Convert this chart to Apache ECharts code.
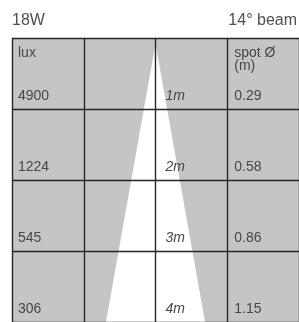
<!DOCTYPE html>
<html>
<head>
<meta charset="utf-8">
<script src="https://cdn.jsdelivr.net/npm/echarts@6/dist/echarts.min.js"></script>
<style>
  html, body { margin: 0; padding: 0; background: #fff; }
  #chart { width: 299px; height: 322px; }
</style>
</head>
<body>
<div id="chart"></div>
<script>
// rows of the table (distance from the lamp)
const distances = [1, 2, 3, 4];
const distanceLabels = ['1m', '2m', '3m', '4m'];
const luxValues = [4900, 1224, 545, 306];
const spotDiameters = ['0.29', '0.58', '0.86', '1.15'];

// beam outline, in column / metre units
const beamX = [2, 1.31, 2.69];
const beamY = [0.08, 4, 4];

const chart = echarts.init(document.getElementById('chart'));
const font = '"Liberation Sans", Arial, Helvetica, sans-serif';
const textColor = '#474747';

const gridLine = { show: true, lineStyle: { color: '#262626', width: 1.4 } };

const option = {
  animation: false,
  title: [
    {
      text: '18W', left: 12, top: 13, padding: 0,
      textStyle: { fontFamily: font, fontSize: 16, fontWeight: 'normal', color: '#505050' }
    },
    {
      text: '14° beam', right: 2, top: 13, padding: 0,
      textStyle: { fontFamily: font, fontSize: 16, fontWeight: 'normal', color: '#505050' }
    }
  ],
  grid: {
    left: 12, top: 38, width: 287, height: 288,
    show: true, backgroundColor: '#c5c5c5', borderWidth: 0
  },
  xAxis: {
    type: 'value', min: 0, max: 4, interval: 1, z: 5,
    axisLabel: { show: false }, axisTick: { show: false }, axisLine: { show: false },
    splitLine: gridLine
  },
  yAxis: {
    type: 'value', inverse: true, min: 0, max: 4, interval: 1, z: 5,
    axisLabel: { show: false }, axisTick: { show: false }, axisLine: { show: false },
    splitLine: gridLine
  },
  series: [
    {
      // the white light cone
      type: 'custom',
      z: 2,
      data: [0],
      renderItem: function (params, api) {
        const pts = beamX.map((x, i) => api.coord([x, beamY[i]]));
        return {
          type: 'polygon',
          shape: { points: pts },
          style: { fill: '#ffffff' }
        };
      }
    },
    {
      // column headers
      type: 'custom',
      z: 10,
      data: [0],
      renderItem: function (params, api) {
        const lux = api.coord([0, 0]);
        const spot = api.coord([3, 0]);
        return {
          type: 'group',
          children: [
            {
              type: 'text',
              style: {
                x: lux[0] + 6, y: lux[1] + 15, text: 'lux',
                fill: textColor, fontFamily: font, fontSize: 14,
                align: 'left', verticalAlign: 'middle'
              }
            },
            {
              type: 'text',
              style: {
                x: spot[0] + 7, y: spot[1] + 9, text: 'spot Ø\n(m)',
                fill: textColor, fontFamily: font, fontSize: 14, lineHeight: 13,
                align: 'left', verticalAlign: 'top'
              }
            }
          ]
        };
      }
    },
    {
      // lux, distance and spot diameter per row
      type: 'custom',
      z: 10,
      data: distances.map((d, i) => [d, i]),
      renderItem: function (params, api) {
        const d = api.value(0);
        const i = params.dataIndex;
        const c0 = api.coord([0, d]);
        const c2 = api.coord([2, d]);
        const c3 = api.coord([3, d]);
        const base = { fill: textColor, fontFamily: font, fontSize: 14, align: 'left', verticalAlign: 'middle' };
        return {
          type: 'group',
          children: [
            { type: 'text', style: Object.assign({ x: c0[0] + 6, y: c0[1] - 13, text: String(luxValues[i]) }, base) },
            { type: 'text', style: Object.assign({ x: c2[0] + 10, y: c2[1] - 13, text: distanceLabels[i], fontStyle: 'italic' }, base) },
            { type: 'text', style: Object.assign({ x: c3[0] + 7, y: c3[1] - 13, text: spotDiameters[i] }, base) }
          ]
        };
      }
    }
  ]
};

chart.setOption(option);
</script>
</body>
</html>
